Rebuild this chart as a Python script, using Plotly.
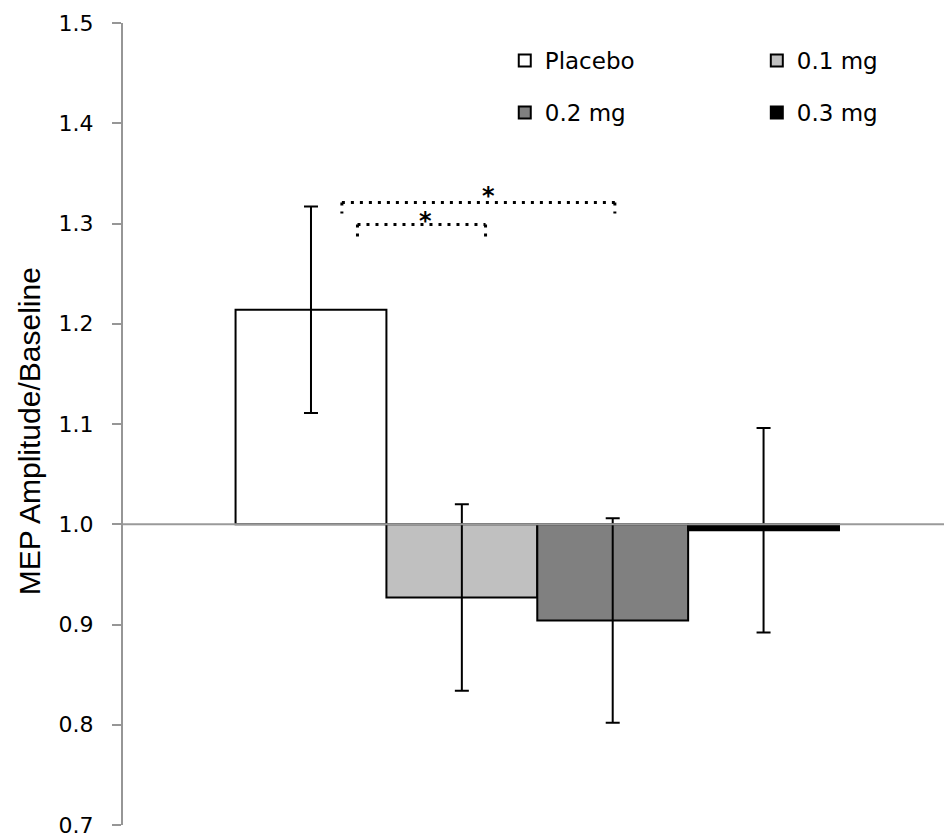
import plotly.graph_objects as go

# ---- data ----
groups = ["Placebo", "0.1 mg", "0.2 mg", "0.3 mg"]
means = [1.214, 0.927, 0.904, 0.994]
sem = [0.103, 0.093, 0.102, 0.102]
baseline = 1.0
fills = ["#ffffff", "#c0c0c0", "#808080", "#000000"]
legend_ids = ["legend", "legend2", "legend", "legend2"]
y_ticks = [0.7, 0.8, 0.9, 1.0, 1.1, 1.2, 1.3, 1.4, 1.5]
y_ticktext = ["0.7", "0.8", "0.9", "1.0", "1.1", "1.2", "1.3", "1.4", "1.5"]
category = ["MEP"]

fig = go.Figure()
for name, m, e, c, lg in zip(groups, means, sem, fills, legend_ids):
    fig.add_trace(go.Bar(
        x=category, y=[m - baseline], base=baseline, name=name,
        marker=dict(color=c, line=dict(color="#000000", width=2)),
        error_y=dict(type="data", array=[e], color="#000000", thickness=2, width=7),
        legend=lg, legendgroup=name,
    ))

# significance brackets (dotted) and stars
dot = dict(color="#000000", width=3, dash="3px,6px")
brackets = [(-0.219, -0.063, 1.299, 1.287), (-0.238, 0.0945, 1.321, 1.310)]
stars = [(-0.136, 1.302), (-0.059, 1.327)]
for x0, x1, ytop, ybot in brackets:
    fig.add_shape(type="line", xref="x", yref="y", x0=x0, x1=x1, y0=ytop, y1=ytop, line=dot)
    fig.add_shape(type="line", xref="x", yref="y", x0=x0, x1=x0, y0=ytop, y1=ybot, line=dot)
    fig.add_shape(type="line", xref="x", yref="y", x0=x1, x1=x1, y0=ytop, y1=ybot, line=dot)
for sx, sy in stars:
    fig.add_annotation(x=sx, y=sy, xref="x", yref="y", text="<b>*</b>", showarrow=False,
                       font=dict(family="DejaVu Sans", size=24, color="#000000"))

# baseline line at 1.0 (Excel horizontal axis)
fig.add_shape(type="line", xref="paper", yref="y", x0=0, x1=1, y0=baseline, y1=baseline,
              line=dict(color="#9a9a9a", width=2), layer="above")

# y-axis title
fig.add_annotation(text="MEP Amplitude/Baseline", textangle=-90, xref="paper", yref="paper",
                   x=-0.1146, y=0.491, xanchor="center", yanchor="middle", showarrow=False,
                   font=dict(family="Liberation Sans, Arial", size=30, color="#000000"))

legend_common = dict(font=dict(family="DejaVu Sans", size=23, color="#000000"),
                     bgcolor="rgba(0,0,0,0)", borderwidth=0, orientation="v",
                     tracegroupgap=19, xanchor="left", yanchor="top")

fig.update_layout(
    width=944, height=834,
    margin=dict(l=123, r=0, t=23, b=9),
    paper_bgcolor="#ffffff", plot_bgcolor="#ffffff",
    barmode="group", bargap=0.265, bargroupgap=0,
    showlegend=True,
    legend=dict(x=0.465, y=0.98, **legend_common),
    legend2=dict(x=0.772, y=0.98, **legend_common),
    xaxis=dict(range=[-0.5046, 0.4954], showticklabels=False, showline=False, showgrid=False,
               zeroline=False, ticks="", automargin=False),
    yaxis=dict(range=[0.7, 1.5], tickvals=y_ticks, ticktext=y_ticktext, showgrid=False, zeroline=False,
               showline=True, linecolor="#969696", linewidth=2,
               ticks="outside", ticklen=9, tickwidth=2, tickcolor="#969696",
               ticklabelstandoff=14, ticklabeloverflow="allow", automargin=False,
               tickfont=dict(family="DejaVu Sans", size=22, color="#000000")),
)

fig.write_html("out.html", config={"displayModeBar": False},
               post_script="document.body.style.margin='0px';document.body.style.overflow='hidden';")
